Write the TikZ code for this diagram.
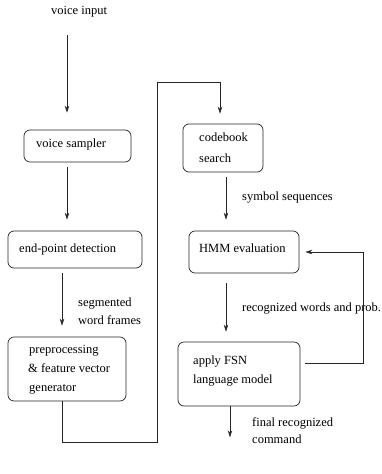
\documentclass[tikz,border=0pt]{standalone}
\usepackage{fontspec}
\setmainfont{Liberation Serif}
\usetikzlibrary{arrows.meta,calc}
\begin{document}
\begin{tikzpicture}[x=1pt,y=-1pt,
  box/.style={draw=black!85,line width=0.7pt,rounded corners=6pt,inner sep=0pt},
  lbl/.style={anchor=base west,inner sep=0pt,font=\fontsize{12.5}{19}\selectfont},
  arr/.style={draw=black!85,line width=0.7pt,-{Stealth[length=7pt,width=4.5pt]}},
  ln/.style={draw=black!85,line width=0.7pt}]
\useasboundingbox (0,0) rectangle (381,474);
% boxes
\node[box,minimum width=107pt,minimum height=32pt] (sampler) at (77.5,146) {};
\node[box,minimum width=134pt,minimum height=37pt] (endpt) at (75,249.5) {};
\node[box,minimum width=118pt,minimum height=64pt] (prep) at (67,369) {};
\node[box,minimum width=80pt,minimum height=48pt] (code) at (223,148) {};
\node[box,minimum width=110pt,minimum height=42pt] (hmm) at (244,252) {};
\node[box,minimum width=122pt,minimum height=64pt] (fsn) at (239,374) {};
% texts
\node[lbl] (tin) at (51,14) {voice input};
\node[lbl] (tsam) at (36,147) {voice sampler};
\node[lbl] (tend) at (19,252) {end-point detection};
\node[lbl] (tseg1) at (78,306) {segmented};
\node[lbl] (tseg2) at (78,324) {word frames};
\node[lbl] (tpre1) at (29,353) {preprocessing};
\node[lbl] (tpre2) at (28,372) {\& feature vector};
\node[lbl] (tpre3) at (29,391) {generator};
\node[lbl] (tcod1) at (199,141) {codebook};
\node[lbl] (tcod2) at (199,162) {search};
\node[lbl] (tsym) at (242,200) {symbol sequences};
\node[lbl] (thmm) at (199,252) {HMM evaluation};
\node[lbl] (trec) at (242,311) {recognized words and prob.};
\node[lbl] (tfsn1) at (193,364) {apply FSN};
\node[lbl] (tfsn2) at (193,383) {language model};
\node[lbl] (tfin1) at (252,426) {final recognized};
\node[lbl] (tfin2) at (252,443) {command};
% helper coordinates
\coordinate (xa) at (67,35);
\coordinate (xb) at (62,0);
\coordinate (xc) at (220,0);
\coordinate (xd) at (226,0);
\coordinate (xe) at (230,0);
\coordinate (bot) at (157,442);
\coordinate (top) at (157,82);
\coordinate (fb) at (363,363);
% connectors
\draw[arr,shorten >=17pt] (xa) -- (xa |- sampler.north);
\draw[arr,shorten <=5pt,shorten >=11pt] (sampler.south -| xa) -- (endpt.north -| xa);
\draw[arr,shorten <=5pt,shorten >=11pt] (endpt.south -| xb) -- (prep.north -| xb);
\draw[arr,shorten >=10pt] (prep.south -| xb) -- (xb |- bot) -- (bot) -- (top) -- (top -| xc) -- (code.north -| xc);
\draw[arr,shorten <=5pt,shorten >=11pt] (code.south -| xd) -- (hmm.north -| xd);
\draw[arr,shorten <=10pt,shorten >=10pt] (hmm.south -| xd) -- (fsn.north -| xd);
\draw[arr,shorten <=5pt,shorten >=6pt] (fsn.east |- fb) -- (fb) -- (fb |- hmm.east) -- (hmm.east);
\draw[arr,shorten >=0pt] (fsn.south -| xe) -- ++(0,31);
\end{tikzpicture}
\end{document}
